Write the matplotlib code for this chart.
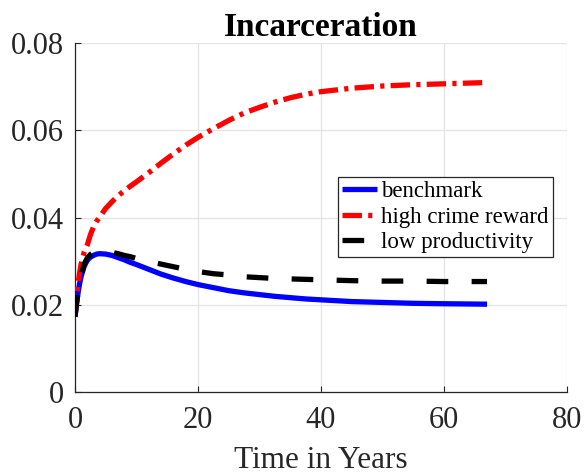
import matplotlib
matplotlib.use("Agg")
import matplotlib.pyplot as plt

# ---- data ----
t = [0, 0.25, 0.5, 0.75, 1, 1.5, 2, 2.5, 3, 3.5, 4, 5, 6, 7, 8, 9, 10, 12, 14, 16, 18, 20,
     22.5, 25, 27.5, 30, 32.5, 35, 37.5, 40, 45, 50, 55, 60, 67]
benchmark = [0.0172, 0.0202, 0.0227, 0.0248, 0.0265, 0.0288, 0.0302, 0.0309, 0.0313, 0.0316,
             0.0317, 0.0316, 0.0313, 0.0308, 0.0303, 0.0297, 0.0292, 0.0281, 0.0270, 0.0261,
             0.0253, 0.0246, 0.0239, 0.0232, 0.0227, 0.0223, 0.0219, 0.0216, 0.0213, 0.0211,
             0.0207, 0.0205, 0.0203, 0.0202, 0.0201]
high_crime = [0.0172, 0.0215, 0.0248, 0.0273, 0.0293, 0.0321, 0.0337, 0.0360, 0.0378, 0.0391,
              0.0401, 0.0421, 0.0436, 0.0450, 0.0461, 0.0472, 0.0482, 0.0503, 0.0525, 0.0546,
              0.0566, 0.0584, 0.0604, 0.0623, 0.0640, 0.0653, 0.0665, 0.0675, 0.0683, 0.0689,
              0.0697, 0.0702, 0.0705, 0.0707, 0.0710]
low_prod = [0.0172, 0.0203, 0.0229, 0.0250, 0.0268, 0.0293, 0.0307, 0.0315, 0.0320, 0.0323,
            0.0324, 0.0323, 0.0320, 0.0317, 0.0313, 0.0310, 0.0306, 0.0299, 0.0293, 0.0287,
            0.0281, 0.0276, 0.0271, 0.0268, 0.0264, 0.0262, 0.0260, 0.0259, 0.0258, 0.0257,
            0.0255, 0.0254, 0.0254, 0.0253, 0.0253]
labels = ["benchmark", "high crime reward", "low productivity"]
xticks = [0, 20, 40, 60, 80]
yticks = [0, 0.02, 0.04, 0.06, 0.08]
yticklabels = ["0", "0.02", "0.04", "0.06", "0.08"]
title = "Incarceration"
xlabel = "Time in Years"

plt.rcParams["font.family"] = ["Liberation Serif", "DejaVu Serif"]
plt.rcParams["lines.scale_dashes"] = False

fig = plt.figure(figsize=(5.84, 4.74), dpi=100)
ax = fig.add_axes([0.1284, 0.1736, 0.8425, 0.735])

dark = "#262626"
lw = 3.8
ax.plot(t, benchmark, color="#0000ff", lw=lw, solid_capstyle="butt",
        solid_joinstyle="round", label=labels[0], zorder=3)
ax.plot(t, high_crime, color="#ff0000", lw=lw, linestyle=(0, (14, 4.5, 3, 4.5)),
        dash_capstyle="butt", dash_joinstyle="round", label=labels[1], zorder=3)
ax.plot(t, low_prod, color="#000000", lw=lw, linestyle=(0, (15.6, 16.8)),
        dash_capstyle="butt", dash_joinstyle="round", label=labels[2], zorder=4)

ax.set_xlim(0, 80)
ax.set_ylim(0, 0.08)
ax.set_xticks(xticks)
ax.set_yticks(yticks)
ax.set_yticklabels(yticklabels)

ax.grid(True, color="#e3e3e3", lw=0.9)
ax.set_axisbelow(True)
for s in ["top", "right"]:
    ax.spines[s].set_visible(False)
for s in ["left", "bottom"]:
    ax.spines[s].set_color(dark)
    ax.spines[s].set_linewidth(0.9)

ax.tick_params(direction="in", length=4, width=0.8, color=dark, labelcolor=dark,
               labelsize=22)
ax.tick_params(axis="x", pad=10)
ax.tick_params(axis="y", pad=8)

ax.set_title(title, fontsize=24, fontweight="bold", pad=4)
ax.set_xlabel(xlabel, fontsize=22.5, color=dark, labelpad=8)

leg = ax.legend(loc="upper left", bbox_to_anchor=(0.534, 0.617), borderaxespad=0,
                fontsize=16.5, handlelength=1.5, handletextpad=0.2, labelspacing=0.18,
                borderpad=0.2, fancybox=False, framealpha=1, edgecolor=dark)
leg.get_frame().set_linewidth(0.9)

fig.savefig("out.png", dpi=100)
